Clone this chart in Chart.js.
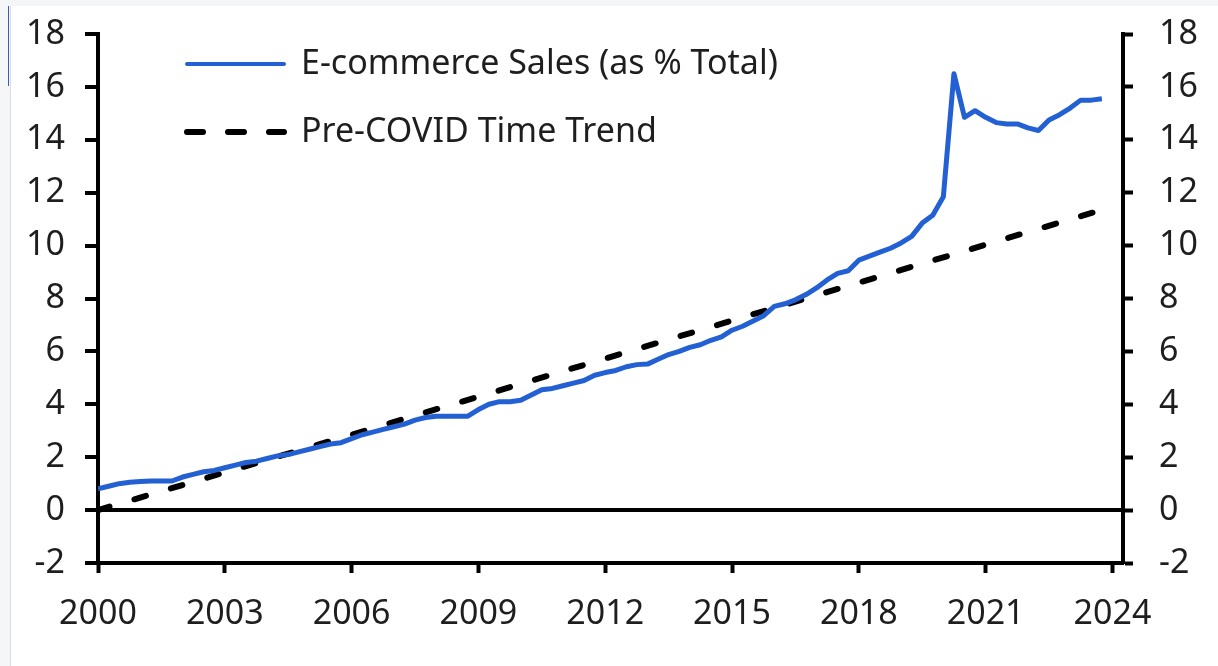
<!DOCTYPE html>
<html>
<head>
<meta charset="utf-8">
<script src="https://cdn.jsdelivr.net/npm/chart.js@4.4.1/dist/chart.umd.min.js"></script>
<style>
  html, body { margin: 0; padding: 0; background: #f5f6f8; }
  #panel { position: absolute; left: 10px; top: 6px; width: 1208px; height: 660px; background: #fff; border-left: 1px solid #dcdde0; box-sizing: border-box; }
  #mark { position: absolute; left: 8px; top: 6px; width: 1px; height: 80px; background: #3a5bb8; }
  canvas { position: absolute; left: 0; top: 0; }
</style>
</head>
<body>
<div id="mark"></div>
<div id="panel"><canvas id="chart" width="1207" height="660"></canvas></div>
<script>
// quarterly categories 2000Q1 .. 2023Q4
var quarters = [];
for (var yr = 2000; yr <= 2023; yr++) {
  for (var q = 1; q <= 4; q++) quarters.push(yr + 'Q' + q);
}

// e-commerce share of total retail sales, %
var ecomShare = [
  0.80, 0.90, 1.00, 1.05,  1.08, 1.10, 1.10, 1.10,  1.25, 1.35, 1.45, 1.50,
  1.60, 1.70, 1.80, 1.85,  1.95, 2.05, 2.10, 2.20,  2.30, 2.40, 2.50, 2.55,
  2.70, 2.85, 2.95, 3.05,  3.15, 3.25, 3.40, 3.50,  3.55, 3.55, 3.55, 3.55,
  3.80, 4.00, 4.10, 4.10,  4.15, 4.35, 4.55, 4.60,  4.70, 4.80, 4.90, 5.10,
  5.20, 5.28, 5.42, 5.50,  5.52, 5.70, 5.88, 6.00,  6.15, 6.25, 6.42, 6.55,
  6.80, 6.95, 7.15, 7.35,  7.70, 7.80, 7.95, 8.15,  8.40, 8.70, 8.95, 9.05,
  9.45, 9.60, 9.75, 9.90,  10.10, 10.35, 10.85, 11.15,  11.85, 16.50, 14.85, 15.10,
  14.85, 14.65, 14.60, 14.60,  14.45, 14.35, 14.75, 14.95,  15.20, 15.50, 15.50, 15.55
];

// pre-COVID time trend, anchor points (straight line)
var trendQuarters = ['2000Q1', '2006Q1', '2012Q1', '2018Q1', '2023Q4'];
var trendValues = [0.0, 2.85, 5.73, 8.60, 11.35];

var xTicks = [2000, 2003, 2006, 2009, 2012, 2015, 2018, 2021, 2024];
var yTicks = [-2, 0, 2, 4, 6, 8, 10, 12, 14, 16, 18];

var seriesNames = ['E-commerce Sales (as % Total)', 'Pre-COVID Time Trend'];

function quarterToX(label) {
  var parts = label.split('Q');
  return parseInt(parts[0]) + (parseInt(parts[1]) - 1) / 4;
}

function toPoints(labels, values) {
  var pts = [];
  for (var i = 0; i < values.length; i++) {
    pts.push({x: quarterToX(labels[i]), y: values[i]});
  }
  return pts;
}

var tickFont = {family: 'Noto Sans', size: 34};
var textColor = '#1e1e1e';

// legend drawn inside the plot area, top left
var insideLegend = {
  id: 'insideLegend',
  afterDatasetsDraw: function(chart) {
    var ctx = chart.ctx;
    var area = chart.chartArea;
    var x0 = area.left + 89, x1 = area.left + 186;
    var rows = [area.top + 30, area.top + 98];
    ctx.save();
    chart.data.datasets.forEach(function(ds, i) {
      var y = rows[i];
      ctx.beginPath();
      ctx.strokeStyle = ds.borderColor;
      ctx.lineWidth = i === 0 ? 4 : 6;
      ctx.lineCap = 'round';
      ctx.setLineDash(i === 0 ? [] : [16, 25]);
      ctx.moveTo(x0, y);
      ctx.lineTo(x1, y);
      ctx.stroke();
      ctx.setLineDash([]);
      ctx.fillStyle = textColor;
      ctx.font = '34px "Noto Sans"';
      ctx.textBaseline = 'middle';
      ctx.textAlign = 'left';
      ctx.fillText(ds.label, x1 + 17, y);
    });
    ctx.restore();
  }
};

function fixTicks(list) {
  return function(scale) {
    scale.ticks = list.map(function(v) { return {value: v}; });
  };
}

// fixed axis sizes, no extra label padding so the plot area lands where the original is
function fitY(width) {
  return function(scale) {
    scale.width = width;
    scale.paddingTop = 0;
    scale.paddingBottom = 0;
  };
}

new Chart(document.getElementById('chart'), {
  type: 'line',
  data: {
    datasets: [{
      label: seriesNames[0],
      data: toPoints(quarters, ecomShare),
      borderColor: '#2360d3',
      borderWidth: 5,
      borderJoinStyle: 'round',
      pointRadius: 0,
      tension: 0,
      yAxisID: 'y'
    }, {
      label: seriesNames[1],
      data: toPoints(trendQuarters, trendValues),
      borderColor: '#000000',
      borderWidth: 6,
      borderDash: [12, 26],
      borderCapStyle: 'round',
      pointRadius: 0,
      tension: 0,
      yAxisID: 'y'
    }]
  },
  options: {
    responsive: false,
    animation: false,
    devicePixelRatio: 1,
    layout: {padding: {top: 28, left: 0, right: 0, bottom: 0}},
    plugins: {legend: {display: false}, tooltip: {enabled: false}},
    scales: {
      x: {
        type: 'linear',
        min: 2000,
        max: 2024.25,
        afterBuildTicks: fixTicks(xTicks),
        afterFit: function(scale) { scale.height = 103; scale.paddingLeft = 0; scale.paddingRight = 0; },
        border: {display: true, color: '#000', width: 4},
        grid: {drawOnChartArea: false, drawTicks: true, tickLength: 10, tickWidth: 4, tickColor: '#000'},
        ticks: {font: tickFont, color: textColor, padding: 21, maxRotation: 0, autoSkip: false,
          callback: function(v) { return String(v); }}
      },
      y: {
        position: 'left',
        min: -2,
        max: 18,
        afterBuildTicks: fixTicks(yTicks),
        afterFit: fitY(87),
        border: {display: true, color: '#000', width: 4},
        grid: {
          drawOnChartArea: true,
          color: function(c) { return c.tick && c.tick.value === 0 ? '#000' : 'rgba(0,0,0,0)'; },
          lineWidth: 4,
          tickLength: 13, tickWidth: 4, tickColor: '#000'
        },
        ticks: {font: tickFont, color: textColor, padding: 20, callback: function(v) { return String(v); }}
      },
      y2: {
        position: 'right',
        min: -2,
        max: 18,
        afterBuildTicks: fixTicks(yTicks),
        afterFit: fitY(95),
        border: {display: true, color: '#000', width: 4},
        grid: {drawOnChartArea: false, tickLength: 10, tickWidth: 4, tickColor: '#000'},
        ticks: {font: tickFont, color: textColor, padding: 26, callback: function(v) { return String(v); }}
      }
    }
  },
  plugins: [insideLegend]
});
</script>
</body>
</html>
